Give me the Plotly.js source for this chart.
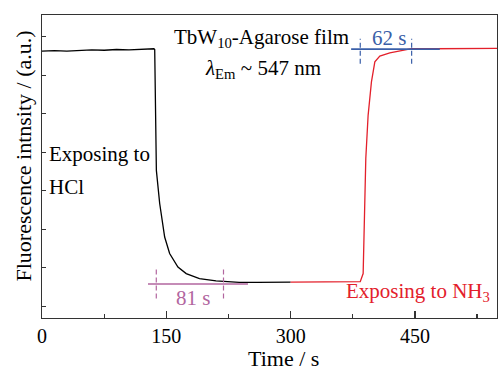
<!DOCTYPE html>
<html>
<head>
<meta charset="utf-8">
<script src="https://cdn.plot.ly/plotly-3.0.1.min.js"></script>
<style>
html,body{margin:0;padding:0;background:#fff;}
#chart{width:498px;height:372px;}
</style>
</head>
<body>
<div id="chart"></div>
<script>
// Black segment (before / during HCl exposure)
const hclTime = [0, 15, 30, 45, 60, 75, 90, 105, 120, 130, 135, 136, 137, 138, 142, 148, 154, 164, 174, 190, 210, 238, 260, 280, 300];
const hclIntensity = [6.63, 6.64, 6.63, 6.65, 6.66, 6.65, 6.67, 6.66, 6.68, 6.68, 6.69, 6.67, 5.0, 3.53, 2.67, 1.80, 1.37, 1.02, 0.85, 0.72, 0.66, 0.62, 0.62, 0.63, 0.63];
// Red segment (NH3 exposure)
const nh3Time = [300, 320, 340, 360, 384, 387.5, 390.7, 393.5, 397.5, 401.6, 407.6, 419.7, 435.8, 446, 470, 500, 525, 549];
const nh3Intensity = [0.63, 0.63, 0.64, 0.64, 0.64, 0.85, 3.84, 4.96, 5.83, 6.35, 6.50, 6.58, 6.65, 6.69, 6.69, 6.70, 6.69, 6.70];
// Response windows
const hclWindow = [137.9, 219];   // 81 s
const nh3Window = [384, 446];     // 62 s
const xTickVals = [0, 150, 300, 450];
const xTickText = ['0', '150', '300', '450'];

const RED = '#e3202b', PURPLE = '#b2669f', BLUE = '#3a5fa8';
const FONT = 'Liberation Serif';

const traces = [
  {x: hclTime, y: hclIntensity, type: 'scatter', mode: 'lines', line: {color: '#000', width: 1.3}, showlegend: false, hoverinfo: 'skip'},
  {x: nh3Time, y: nh3Intensity, type: 'scatter', mode: 'lines', line: {color: RED, width: 1.3}, showlegend: false, hoverinfo: 'skip'}
];

const shapes = [
  {type: 'line', xref: 'x', yref: 'y', x0: hclWindow[0] - 10, x1: 248.5, y0: 0.58, y1: 0.58, line: {color: PURPLE, width: 1.6}},
  {type: 'line', xref: 'x', yref: 'y', x0: hclWindow[0], x1: hclWindow[0], y0: 0.2, y1: 1.02, line: {color: PURPLE, width: 1.2, dash: '5px,3px'}},
  {type: 'line', xref: 'x', yref: 'y', x0: hclWindow[1], x1: hclWindow[1], y0: 0.2, y1: 1.02, line: {color: PURPLE, width: 1.2, dash: '5px,3px'}},
  {type: 'line', xref: 'x', yref: 'y', x0: nh3Window[0] - 11, x1: 480, y0: 6.68, y1: 6.68, line: {color: BLUE, width: 1.6}},
  {type: 'line', xref: 'x', yref: 'y', x0: nh3Window[0], x1: nh3Window[0], y0: 6.3, y1: 6.95, line: {color: BLUE, width: 1.2, dash: '5px,3px'}},
  {type: 'line', xref: 'x', yref: 'y', x0: nh3Window[1], x1: nh3Window[1], y0: 6.3, y1: 6.95, line: {color: BLUE, width: 1.2, dash: '5px,3px'}}
];

const L = 42, T = 15, W = 455, H = 303;
const px = v => (v - L) / W;
const py = v => (T + H - v) / H;
function ann(text, x, y, opts) {
  return Object.assign({text: text, xref: 'paper', yref: 'paper', x: px(x), y: py(y), showarrow: false,
    xanchor: 'left', yanchor: 'middle', font: {family: FONT, size: 21, color: '#000'}}, opts || {});
}

const annotations = [
  ann('TbW<sub>10</sub>-Agarose film', 172, 38),
  ann('<i>λ</i><sub>Em</sub> ~ 547 nm', 203, 69),
  ann('Exposing to', 47, 154),
  ann('HCl', 47, 187),
  ann('Exposing to NH<sub>3</sub>', 344, 292, {font: {family: FONT, size: 21, color: RED}}),
  ann('81 s', 193, 298, {xanchor: 'center', font: {family: FONT, size: 21, color: PURPLE}}),
  ann('62 s', 389, 38, {xanchor: 'center', font: {family: FONT, size: 21, color: BLUE}}),
  ann('Time / s', 283, 358, {xanchor: 'center', font: {family: FONT, size: 22, color: '#000'}}),
  ann('Fluorescence intnsity / (a.u.)', 22.5, 156, {xanchor: 'center', textangle: -90, font: {family: FONT, size: 22, color: '#000'}})
];

const layout = {
  width: 498, height: 372,
  margin: {l: L, r: 1, t: T, b: 54, pad: 0},
  paper_bgcolor: '#fff', plot_bgcolor: '#fff',
  font: {family: FONT, size: 20, color: '#000'},
  xaxis: {
    range: [0, 549], showgrid: false, zeroline: false,
    showline: true, mirror: true, linecolor: '#333', linewidth: 1.3,
    ticks: 'inside', ticklen: 7, tickwidth: 1.3, tickcolor: '#333',
    tickmode: 'array', tickvals: xTickVals, ticktext: xTickText,
    tickfont: {family: FONT, size: 20, color: '#000'},
    minor: {dtick: 75, tick0: 0, ticks: 'inside', ticklen: 4, tickwidth: 1.3, tickcolor: '#333', showgrid: false},
    fixedrange: true
  },
  yaxis: {
    range: [-0.304, 7.566], showgrid: false, zeroline: false,
    showline: true, mirror: true, linecolor: '#333', linewidth: 1.3,
    ticks: 'inside', ticklen: 4, tickwidth: 1.3, tickcolor: '#333',
    dtick: 1, tick0: 0, showticklabels: false, fixedrange: true
  },
  shapes: shapes,
  annotations: annotations,
  showlegend: false
};

Plotly.newPlot('chart', traces, layout, {staticPlot: true, displayModeBar: false});
</script>
</body>
</html>
